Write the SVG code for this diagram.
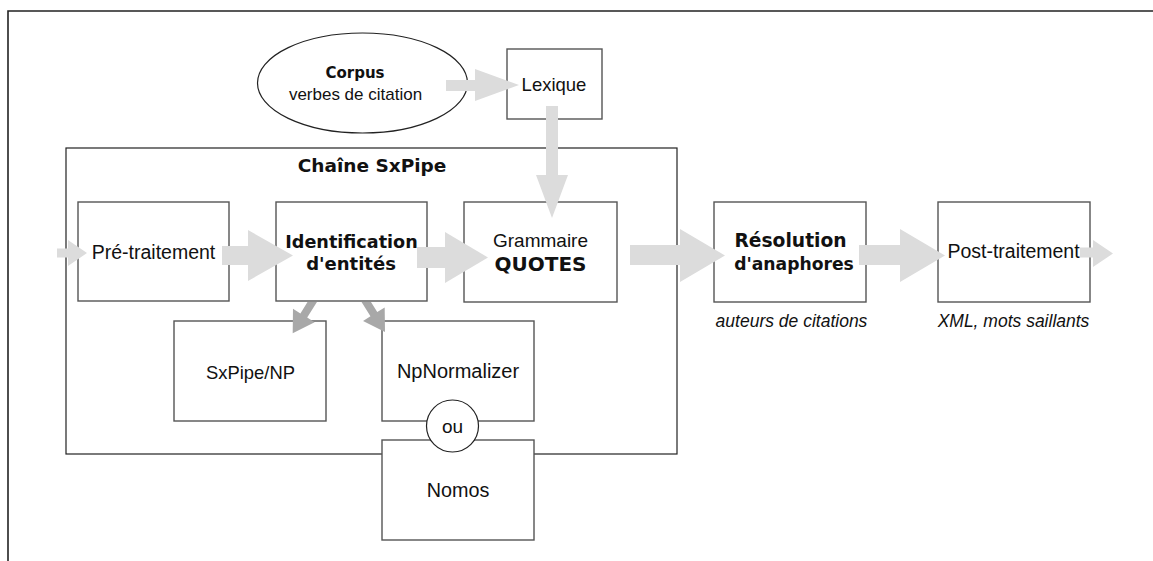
<svg xmlns="http://www.w3.org/2000/svg" width="1153" height="561" viewBox="0 0 1153 561">
<style>
.box{fill:#fff;stroke:#555;stroke-width:1.4}
.frame{fill:none;stroke:#222;stroke-width:1.6}
.group{fill:none;stroke:#222;stroke-width:1.2}
.t{font-family:"Liberation Sans",Arial,sans-serif;fill:#111;text-anchor:middle}
.b{font-family:"DejaVu Sans",sans-serif;font-weight:bold;fill:#111;text-anchor:middle}
.i{font-family:"Liberation Sans",Arial,sans-serif;font-style:italic;fill:#111;text-anchor:middle;font-size:17.5px}
.big{fill:#dcdcdc}
.dark{fill:#a8a8a8}
</style>
<rect width="1153" height="561" fill="#fff"/>
<path class="frame" d="M8,561 V11 H1153"/>

<g id="chaine">
<rect class="group" x="66" y="148" width="611" height="306"/>
<text class="b" x="372" y="171.5" font-size="18.5">Chaîne SxPipe</text>
</g>

<g id="corpus">
<ellipse cx="362.5" cy="83" rx="105" ry="50" fill="#fff" stroke="#222" stroke-width="1.2"/>
<text class="b" x="355" y="78" font-size="15">Corpus</text>
<text class="t" x="355.5" y="100" font-size="17">verbes de citation</text>
</g>

<g id="lexique">
<rect class="box" x="507" y="49" width="95" height="70"/>
<text class="t" x="554" y="91" font-size="18.5">Lexique</text>
</g>

<g id="pretraitement">
<rect class="box" x="78" y="202" width="151" height="99"/>
<text class="t" x="153.5" y="259" font-size="19.5">Pré-traitement</text>
</g>

<g id="identification">
<rect class="box" x="276" y="202" width="151" height="99"/>
<text class="b" x="351.5" y="248" font-size="17.6">Identification</text>
<text class="b" x="351" y="270" font-size="18">d'entités</text>
</g>

<g id="grammaire">
<rect class="box" x="464" y="202" width="153" height="100"/>
<text class="t" x="540.5" y="247" font-size="19">Grammaire</text>
<text class="b" x="540.5" y="271" font-size="20">QUOTES</text>
</g>

<g id="resolution">
<rect class="box" x="714" y="202" width="152" height="100"/>
<text class="b" x="790.5" y="247" font-size="18.7">Résolution</text>
<text class="b" x="794" y="269.5" font-size="17.2">d'anaphores</text>
<text class="i" x="791.5" y="327">auteurs de citations</text>
</g>

<g id="posttraitement">
<rect class="box" x="938" y="202" width="152" height="100"/>
<text class="t" x="1013.5" y="258" font-size="19.5">Post-traitement</text>
<text class="i" x="1013.5" y="327">XML, mots saillants</text>
</g>

<g id="sxpipenp">
<rect class="box" x="174" y="321" width="152" height="100"/>
<text class="t" x="250.5" y="379" font-size="18.4">SxPipe/NP</text>
</g>

<g id="npnormalizer">
<rect class="box" x="382" y="321" width="152" height="100"/>
<text class="t" x="458" y="378" font-size="20">NpNormalizer</text>
</g>

<g id="nomos">
<rect class="box" x="382" y="440" width="152" height="100"/>
<text class="t" x="458" y="497" font-size="19.8">Nomos</text>
</g>

<g id="ou">
<circle cx="452.5" cy="426" r="26" fill="#fff" stroke="#222" stroke-width="1.2"/>
<text class="t" x="452.5" y="433" font-size="19">ou</text>
</g>

<g id="connectors">
<polygon class="big" points="446,80 475,80 475,69 519,85 475,101 475,91 446,91"/>
<polygon class="big" points="546,106 558,106 558,175 568,175 552,218 536,175 546,175"/>
<polygon class="big" points="57,248.5 68,248.5 68,240 87,253 68,266 68,257.5 57,257.5"/>
<polygon class="big" points="222,246 248,246 248,230 293,255.5 248,281 248,265 222,265"/>
<polygon class="big" points="417,247 445,247 445,232 488,257.5 445,283 445,268 417,268"/>
<polygon class="big" points="630,245 680,245 680,229 725,255.5 680,282 680,265 630,265"/>
<polygon class="big" points="859,245 900,245 900,229 945,255.5 900,282 900,265 859,265"/>
<polygon class="big" points="1080,247.5 1093,247.5 1093,240 1113,253.5 1093,267 1093,257.5 1080,257.5"/>
<polygon class="dark" points="307.52,302 316.95,302 307.19,317.62 314.61,322.26 292.7,333.3 292.99,308.74 300.41,313.38"/>
<polygon class="dark" points="361.53,302 370.97,302 377.26,312.07 384.68,307.43 385,332 363.06,320.95 370.48,316.31"/>
</g>
</svg>
